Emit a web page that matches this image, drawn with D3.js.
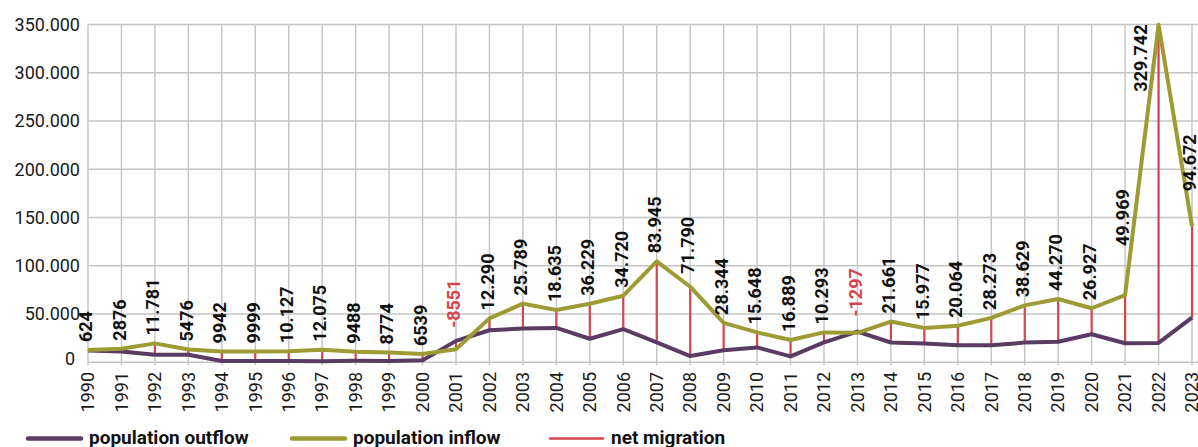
<!DOCTYPE html>
<html>
<head>
<meta charset="utf-8">
<script src="https://cdn.jsdelivr.net/npm/d3@7"></script>
<style>
  html, body { margin: 0; padding: 0; background: #fff; }
  svg { display: block; font-family: Roboto, "Liberation Sans", sans-serif; }
</style>
</head>
<body>
<svg id="chart" width="1198" height="447"></svg>
<script>
// ---- data ----
const years = [1990,1991,1992,1993,1994,1995,1996,1997,1998,1999,2000,2001,2002,2003,2004,2005,2006,2007,2008,2009,2010,2011,2012,2013,2014,2015,2016,2017,2018,2019,2020,2021,2022,2023];
const inflow = [12700,14100,19600,13300,11300,11300,11500,13100,11000,10100,8500,13600,45500,60800,54200,60600,69000,104600,78300,40800,31000,23100,31000,30500,42200,35500,37800,46000,59000,65600,56000,69700,349800,141000];
const outflow = [12100,11200,7800,7800,1400,1300,1400,1000,1500,1300,2000,22200,33200,35000,35600,24400,34300,20700,6500,12500,15400,6200,20700,31800,20500,19500,17700,17700,20400,21300,29100,19700,20100,46300];
const netMigration = [624,2876,11781,5476,9942,9999,10127,12075,9488,8774,6539,-8551,12290,25789,18635,36229,34720,83945,71790,28344,15648,16889,10293,-1297,21661,15977,20064,28273,38629,44270,26927,49969,329742,94672];
const yTicks = [0,50000,100000,150000,200000,250000,300000,350000];
const seriesNames = ["population outflow","population inflow","net migration"];

// ---- style / layout ----
const colOut = "#5a3b64", colIn = "#9d9b33", colNet = "#d3464f", gridCol = "#c4c4c4";
const svg = d3.select("#chart");
const x = d3.scalePoint().domain(years).range([88, 1192]);
const y = d3.scaleLinear().domain([0, 350000]).range([362.3, 24.5]);

function fmt(v) {
  const a = Math.abs(v);
  let s = a >= 10000 ? d3.format(",")(a).replace(/,/g, ".") : String(a);
  return (v < 0 ? "-" : "") + s;
}
function fmtAxis(v) { return v === 0 ? "0" : d3.format(",")(v).replace(/,/g, "."); }

// grid
const g = svg.append("g");
g.selectAll("line.h").data(yTicks).join("line")
  .attr("x1", 88).attr("x2", 1230)
  .attr("y1", d => y(d)).attr("y2", d => y(d))
  .attr("stroke", gridCol).attr("stroke-width", 1.4);
g.selectAll("line.v").data(years).join("line")
  .attr("x1", d => x(d)).attr("x2", d => x(d))
  .attr("y1", y(350000)).attr("y2", y(0) + 3)
  .attr("stroke", gridCol).attr("stroke-width", 1.4);

// y axis labels
svg.append("g").selectAll("text").data(yTicks).join("text")
  .attr("x", d => d === 0 ? 75 : 80)
  .attr("y", d => y(d) + (d === 0 ? -4 : 0))
  .attr("dy", "0.35em")
  .attr("text-anchor", "end")
  .attr("font-size", 18).attr("fill", "#1a1a1a")
  .text(fmtAxis);

// x axis labels
svg.append("g").selectAll("text").data(years).join("text")
  .attr("transform", d => `translate(${x(d)},${372}) rotate(-90)`)
  .attr("text-anchor", "end")
  .attr("dy", "0.35em")
  .attr("font-size", 18).attr("fill", "#1a1a1a")
  .text(d => d);

// net migration vertical lines
svg.append("g").selectAll("line").data(years).join("line")
  .attr("x1", d => x(d)).attr("x2", d => x(d))
  .attr("y1", (d, i) => y(outflow[i])).attr("y2", (d, i) => y(inflow[i]))
  .attr("stroke", colNet).attr("stroke-width", 2.2);

// lines
const line = d3.line().x((d, i) => x(years[i])).y(d => y(d));
svg.append("path").datum(outflow).attr("d", line)
  .attr("fill", "none").attr("stroke", colOut).attr("stroke-width", 4).attr("stroke-linejoin", "round");
svg.append("path").datum(inflow).attr("d", line)
  .attr("fill", "none").attr("stroke", colIn).attr("stroke-width", 4).attr("stroke-linejoin", "round");

// data labels (extra lift for a few crowded ones)
const lift = {2001: 5, 2008: 5, 2013: 7, 2021: 41, 2023: 27};
const lbl = svg.append("g");
years.forEach((yr, i) => {
  const v = netMigration[i];
  const t = lbl.append("text")
    .attr("font-size", 18).attr("font-weight", 700)
    .attr("fill", v < 0 ? colNet : "#111")
    .attr("dy", "0.35em")
    .text(fmt(v));
  if (yr === 2022) {
    t.attr("text-anchor", "end")
     .attr("transform", `translate(${x(yr) - 18},${y(350000)}) rotate(-90)`);
  } else {
    const top = y(Math.max(inflow[i], outflow[i])) - 8 - (lift[yr] || 0);
    t.attr("text-anchor", "start")
     .attr("transform", `translate(${x(yr) - 2},${top}) rotate(-90)`);
  }
});

// legend
const legend = svg.append("g");
const legX = [28, 292, 550];
const cols = [colOut, colIn, colNet];
const widths = [4.5, 4.5, 2.5];
seriesNames.forEach((n, i) => {
  legend.append("line").attr("x1", legX[i]).attr("x2", legX[i] + 53)
    .attr("y1", 438.5).attr("y2", 438.5)
    .attr("stroke", cols[i]).attr("stroke-width", widths[i]).attr("stroke-linecap", "round");
  legend.append("text").attr("x", legX[i] + 61).attr("y", 444)
    .attr("font-size", 19).attr("font-weight", 700).attr("fill", "#111")
    .text(n);
});
</script>
</body>
</html>
